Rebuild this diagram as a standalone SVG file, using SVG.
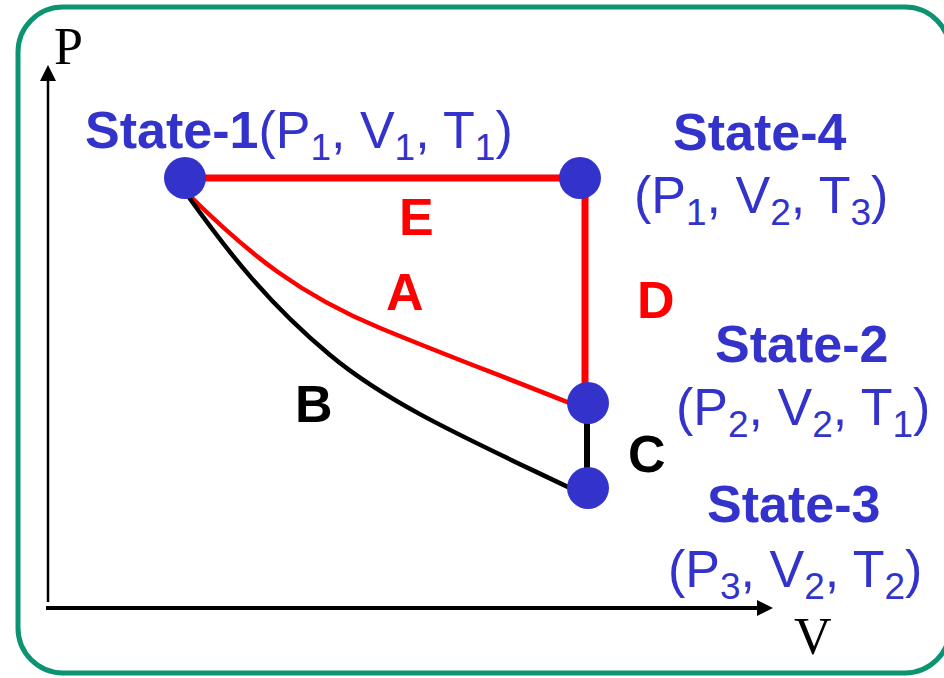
<svg xmlns="http://www.w3.org/2000/svg" width="944" height="678" viewBox="0 0 944 678">
<style>
.frame{fill:#fff;stroke:#0c9370;stroke-width:5}
.axis{stroke:#000;fill:none}
.node{fill:#3333cc}
.title{font-family:"Liberation Sans",Arial,sans-serif;font-weight:bold;font-size:52px;fill:#3333cc}
.param{font-family:"Liberation Sans",Arial,sans-serif;font-size:52px;fill:#3333cc}
.sub{font-size:37px}
.red{stroke:#ff0000;fill:none}
.blk{stroke:#000;fill:none}
.elab{font-family:"Liberation Sans",Arial,sans-serif;font-weight:bold;font-size:52px}
.axlab{font-family:"Liberation Serif","Times New Roman",serif;font-size:52px;fill:#000}
</style>
<defs>
<marker id="arr" markerUnits="userSpaceOnUse" markerWidth="16" markerHeight="16" refX="0" refY="8" orient="auto">
<path d="M0,0 L16,8 L0,16 z" fill="#000"/>
</marker>
</defs>
<rect class="frame" x="18" y="7" width="932" height="666" rx="45" ry="45"/>
<g id="axes">
<line class="axis" x1="48" y1="602" x2="48" y2="81" stroke-width="2.5" marker-end="url(#arr)"/>
<line class="axis" x1="46" y1="608" x2="757" y2="608" stroke-width="4" marker-end="url(#arr)"/>
<text class="axlab" x="54" y="64">P</text>
<text class="axlab" x="794" y="654">V</text>
</g>
<g id="connectors">
<line class="red" x1="185" y1="178" x2="580" y2="178" stroke-width="7"/>
<line class="red" x1="585" y1="178" x2="585" y2="403" stroke-width="7"/>
<path class="red" d="M190,196 C250,255 300,295 380,328 S500,375 572,404" stroke-width="4.5"/>
<path class="blk" d="M188,196 C230,255 270,305 330,355 S470,440 570,488" stroke-width="4.5"/>
<line class="blk" x1="587" y1="403" x2="587" y2="488" stroke-width="6"/>
<text class="elab" x="399" y="235" fill="#ff0000">E</text>
<text class="elab" x="386" y="310" fill="#ff0000">A</text>
<text class="elab" x="637" y="318" fill="#ff0000">D</text>
<text class="elab" x="295" y="422" fill="#000">B</text>
<text class="elab" x="628" y="472" fill="#000">C</text>
</g>
<g id="state1">
<circle class="node" cx="185" cy="178" r="21"/>
<text x="85" y="148"><tspan class="title">State-1</tspan><tspan class="param">(P</tspan><tspan class="param sub" dy="12">1</tspan><tspan class="param" dy="-12">, V</tspan><tspan class="param sub" dy="12">1</tspan><tspan class="param" dy="-12">, T</tspan><tspan class="param sub" dy="12">1</tspan><tspan class="param" dy="-12">)</tspan></text>
</g>
<g id="state4">
<circle class="node" cx="580" cy="178" r="21"/>
<text class="title" x="673" y="150">State-4</text>
<text class="param" x="634" y="213">(P<tspan class="sub" dy="12">1</tspan><tspan dy="-12">, V</tspan><tspan class="sub" dy="12">2</tspan><tspan dy="-12">, T</tspan><tspan class="sub" dy="12">3</tspan><tspan dy="-12">)</tspan></text>
</g>
<g id="state2">
<circle class="node" cx="588" cy="403" r="21"/>
<text class="title" x="715" y="362">State-2</text>
<text class="param" x="676" y="425">(P<tspan class="sub" dy="12">2</tspan><tspan dy="-12">, V</tspan><tspan class="sub" dy="12">2</tspan><tspan dy="-12">, T</tspan><tspan class="sub" dy="12">1</tspan><tspan dy="-12">)</tspan></text>
</g>
<g id="state3">
<circle class="node" cx="588" cy="488" r="21"/>
<text class="title" x="707" y="522">State-3</text>
<text class="param" x="668" y="587">(P<tspan class="sub" dy="12">3</tspan><tspan dy="-12">, V</tspan><tspan class="sub" dy="12">2</tspan><tspan dy="-12">, T</tspan><tspan class="sub" dy="12">2</tspan><tspan dy="-12">)</tspan></text>
</g>
</svg>
